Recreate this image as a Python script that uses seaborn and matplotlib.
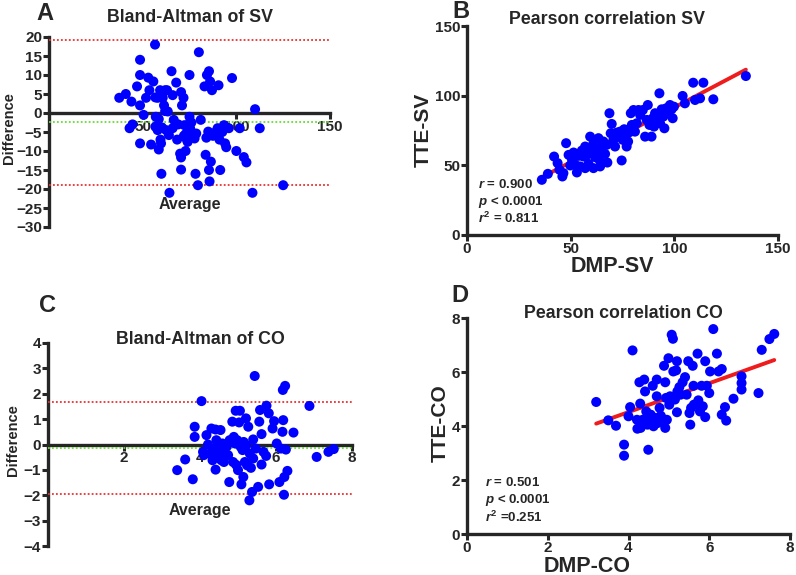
import numpy as np
import matplotlib
matplotlib.use('Agg')
import matplotlib.pyplot as plt
import seaborn as sns
import pandas as pd

# Bland-Altman of SV (average, difference)
sv_avg = [37.5, 41, 44, 43, 44.6, 47, 48.6, 48.6, 48.6, 48.6, 50.5, 51.8, 53, 53.6, 54.5, 55.7,
          56.6, 56.8, 56.8, 57, 58, 58.6, 58.6, 59.3, 59.5, 59.8, 60, 60.3, 60.7, 61.4, 62, 62.5,
          63, 63.4, 64, 64.3, 65.4, 66, 66.6, 67.9, 68.4, 70, 70.5, 70.5, 70.5, 71, 71.8, 72.3,
          72.9, 73.6, 74, 75, 75, 75.3, 75.9, 76.8, 77.7, 78.2, 78.6, 79.5, 80, 81, 83, 83.6, 84,
          84.3, 85, 85.4, 85.4, 85.7, 86, 86.4, 87, 87.5, 89, 90, 90.5, 91, 91.4, 92.5, 93.4, 94,
          94.6, 96, 97.7, 100, 101.8, 104, 105.4, 108.6, 110, 112.5, 125,
          73, 74.5, 76, 72, 69, 58, 62, 66]
sv_diff = [4, 5, 3, -4, -3, 7, 14, 10, 2, -8, -0.5, 4, 9.3, 6, -8.3, 8.3,
           18, 4.1, -3.6, -1, 4, -1.6, -9.6, 6, -7, -8, -16, -3.8, 4, 2, 6, -4.5,
           6, 0.4, -5.8, -21, 11, 4.7, -1.8, 8, -7, -10.7, -14.9, -11.7, 5.5, 2, 4, -3.2,
           -10, -7, -7.6, 10, -1, -4, -4.9, -6.2, -6.7, -16, -5.4, -19, 16, -1.8, 7, -11, -6.5,
           10, -4.9, 11, -15, -18, 8.3, -12.8, 6, -6, -5, -4, 7.3, -7, -15, -5, -3.2, -8,
           -9, -4, 9.2, -10, -4, -11.6, -13, -21, 1, -4, -19,
           -5.5, -3, -2.5, -6, -3, -4.5, 0.5, -4]
sv_bias, sv_upper, sv_lower = -2.3, 19.1, -18.9

# Pearson correlation SV (DMP, TTE)
sv_dmp = [36.1, 39, 42, 43.7, 44.6, 46, 46.5, 47.8, 49, 49.8, 50.6, 51.4, 52.2, 53, 53.8, 55.4,
          56.2, 57, 57.8, 58.6, 59.4, 59.7, 60.2, 61, 61.8, 62.6, 63.4, 63.9, 64.2, 65, 65.8,
          66.6, 67.4, 67.7, 68.7, 69.3, 69.8, 70.6, 71.4, 72.2, 73, 73.8, 74.6, 75.1, 75.8,
          76.4, 77, 77.7, 78.3, 79, 79.5, 80.3, 81, 81.9, 82.7, 83.5, 84.8, 85.9, 86.7, 87.2,
          88, 89, 89.6, 90.2, 90.7, 91.5, 92.8, 93.1, 93.9, 94.7, 95.2, 96, 96.6, 97.9, 98.7,
          99.2, 99.8, 104, 105.1, 109.1, 110, 112.4, 114, 118.8, 134.5, 61, 57, 54.6, 64.2]
sv_tte = [39.6, 43.9, 56.3, 51.6, 46.8, 42, 44.4, 65.9, 57.5, 49.9, 54.4, 59.2, 50.4, 44.9, 56.8,
          60.6, 56.3, 63.5, 57.5, 51.1, 70.6, 62.3, 58.7, 65.9, 55.8, 61.6, 69.5, 53.9, 63.5,
          59.9, 67.1, 58.2, 64.7, 52, 87.4, 73, 79.7, 68.3, 63.5, 73.5, 70.6, 74.2, 53.5, 68.3,
          75.9, 71.1, 63.5, 67.1, 73.7, 87.4, 79, 89.7, 74.2, 80.2, 89.7, 86.2, 89.7, 70.6,
          82.6, 93.3, 79, 70.6, 83.8, 77.8, 87.4, 86.2, 101.7, 80.2, 90.2, 85, 76.6, 90.9, 88.5,
          93.3, 90.2, 83.8, 92.1, 99.8, 94.5, 109.3, 96.9, 98.1, 109.3, 97.4, 114.1,
          48, 48, 49.2, 49.2]

# Bland-Altman of CO (average, difference)
co_avg = [3.4, 3.61, 3.81, 3.86, 3.86, 4.04, 4.08, 4.1, 4.17, 4.21, 4.26, 4.3, 4.33, 4.39, 4.41,
          4.41, 4.43, 4.48, 4.52, 4.54, 4.56, 4.59, 4.63, 4.65, 4.7, 4.74, 4.77, 4.78, 4.85,
          4.87, 4.89, 4.92, 4.94, 4.98, 5.0, 5.03, 5.05, 5.07, 5.09, 5.12, 5.14, 5.18, 5.21,
          5.22, 5.24, 5.27, 5.3, 5.31, 5.34, 5.37, 5.4, 5.44, 5.47, 5.53, 5.56, 5.58, 5.62,
          5.62, 5.67, 5.74, 5.75, 5.81, 5.82, 5.91, 5.95, 6.02, 6.09, 6.13, 6.17, 6.18, 6.19,
          6.21, 6.22, 6.24, 6.26, 6.3, 6.46, 6.88, 7.07, 7.38, 7.52, 5.4, 4.5, 5.15, 4.95]
co_diff = [-1.01, -0.59, -1.37, 0.7, 0.3, 1.71, -0.29, -0.42, 0.37, 0, -0.36, 0.63, -0.62, -0.16,
           0.59, -0.99, 0.17, -0.49, -0.22, 0.57, -0.62, 0.04, -0.69, -0.36, -0.09, -0.42, -1.48,
           0.17, 0.9, -0.69, 0.3, 0.04, 1.33, 0.17, -1.01, 0.87, 1.33, -0.09, -1.57, -0.22,
           -1.28, -0.69, 1.03, -0.03, -0.82, 0.7, -2.2, -0.36, -0.92, -1.87, 0.2, 2.7, -0.16,
           -1.67, 0.9, 1.36, 0.41, -0.79, -0.29, -0.45, 1.53, 1.23, -1.57, 0.63, 0.92, 0.04,
           -1.48, -0.16, 0.5, 2.15, 0.96, -1.98, -1.28, 2.31, -0.2, -1.04, 0.47, 1.52, -0.49,
           -0.29, -0.18, -0.55, -0.3, 0.1, -0.8]
co_bias, co_upper, co_lower = -0.13, 1.66, -1.94

# Pearson correlation CO (DMP, TTE)
co_dmp = [3.2, 3.5, 3.69, 3.89, 3.89, 4.0, 4.04, 4.1, 4.21, 4.22, 4.27, 4.29, 4.3, 4.35, 4.39,
          4.41, 4.44, 4.47, 4.49, 4.52, 4.55, 4.6, 4.62, 4.66, 4.7, 4.7, 4.72, 4.77, 4.8, 4.85,
          4.88, 4.91, 4.91, 4.93, 4.95, 4.99, 5.01, 5.03, 5.07, 5.1, 5.11, 5.15, 5.18, 5.2, 5.2,
          5.21, 5.26, 5.29, 5.34, 5.4, 5.44, 5.48, 5.51, 5.53, 5.55, 5.59, 5.61, 5.62, 5.71,
          5.73, 5.77, 5.81, 5.84, 5.9, 5.9, 5.94, 6.0, 6.02, 6.1, 6.19, 6.23, 6.31, 6.31, 6.39,
          6.42, 6.6, 6.8, 6.8, 6.8, 7.22, 7.3, 7.49, 7.61]
co_tte = [4.89, 4.21, 4.01, 3.31, 2.9, 4.36, 4.7, 6.8, 4.23, 3.9, 5.62, 4.83, 3.93, 4.23, 5.72,
          5.28, 4.54, 4.05, 3.12, 4.23, 4.42, 5.49, 3.99, 4.3, 5.72, 5.1, 4.11, 4.67, 4.38, 4.26,
          6.23, 5.62, 3.93, 5.04, 4.23, 6.51, 4.79, 5.1, 7.38, 7.23, 6.02, 4.98, 6.06, 6.4, 4.51,
          5.28, 5.44, 5.16, 5.62, 5.81, 5.16, 6.4, 4.48, 4.05, 4.67, 6.23, 5.49, 4.79, 6.68,
          4.95, 4.54, 5.49, 4.73, 6.4, 4.33, 5.49, 5.22, 6.02, 7.59, 6.68, 6.02, 6.11, 4.42,
          4.7, 4.2, 5.01, 5.84, 5.59, 5.35, 5.22, 6.82, 7.22, 7.41]

sns.set_style('ticks')
plt.rcParams['font.family'] = ['Liberation Sans', 'DejaVu Sans']
plt.rcParams['font.weight'] = 'bold'
plt.rcParams['mathtext.fontset'] = 'custom'
plt.rcParams['mathtext.it'] = 'Liberation Sans:italic:bold'
plt.rcParams['mathtext.rm'] = 'Liberation Sans:bold'
plt.rcParams['mathtext.bf'] = 'Liberation Sans:bold'

W, H = 796, 575
fig = plt.figure(figsize=(W / 100, H / 100), dpi=100)


def box(l, t, r, b):
    return [l / W, (H - b) / H, (r - l) / W, (b - t) / H]


def ftext(x, y, s, **kw):
    fig.text(x / W, 1 - y / H, s, ha=kw.pop('ha', 'center'), va=kw.pop('va', 'center'),
             fontweight='bold', **kw)


def style(ax):
    for side in ['top', 'right']:
        ax.spines[side].set_visible(False)
    for side in ['left', 'bottom']:
        ax.spines[side].set_linewidth(2.4)
        ax.spines[side].set_zorder(1)
    ax.tick_params(width=2.2, length=4, labelsize=11, pad=1)
    for lab in ax.get_xticklabels() + ax.get_yticklabels():
        lab.set_fontweight('bold')
    ax.set_xlabel('')
    ax.set_ylabel('')


def bland(ax, avg, diff, bias, upper, lower, xmax, xticks, yticks):
    ax.set_xlim(0, xmax)
    ax.set_ylim(yticks[0], yticks[-1])
    for v, c in [(upper, '#e83030'), (lower, '#e83030'), (bias, '#66dd33')]:
        ax.axhline(v, color=c, ls=(0, (1, 1.2)), lw=1.3, zorder=2)
    sns.scatterplot(x=avg, y=diff, ax=ax, color='#0000ff', s=52, edgecolor='none',
                    zorder=3, clip_on=False)
    ax.spines['bottom'].set_position(('data', 0))
    ax.set_xticks(xticks)
    ax.set_yticks(yticks)
    style(ax)


def pearson(ax, x, y, lim, ticks):
    df = pd.DataFrame({'x': x, 'y': y})
    sns.scatterplot(data=df, x='x', y='y', ax=ax, color='#0000ff', s=52, edgecolor='none',
                    zorder=3, clip_on=False)
    sns.regplot(data=df, x='x', y='y', ax=ax, ci=None, scatter=False,
                line_kws={'color': '#ee1c1c', 'lw': 2.8, 'zorder': 2})
    ax.set_xlim(0, lim)
    ax.set_ylim(0, lim)
    ax.set_xticks(ticks)
    ax.set_yticks(ticks)
    style(ax)


axA = fig.add_axes(box(49, 37, 330, 227))
bland(axA, sv_avg, sv_diff, sv_bias, sv_upper, sv_lower, 150, [50, 100, 150],
      list(range(-30, 25, 5)))

axB = fig.add_axes(box(467, 26, 778, 235))
pearson(axB, sv_dmp, sv_tte, 150, [0, 50, 100, 150])

axC = fig.add_axes(box(48, 343, 352, 546))
bland(axC, co_avg, co_diff, co_bias, co_upper, co_lower, 8, [2, 4, 6, 8],
      list(range(-4, 5, 1)))

axD = fig.add_axes(box(467, 318, 790, 534))
pearson(axD, co_dmp, co_tte, 8, [0, 2, 4, 6, 8])

# panel letters
for x, y, s in [(45, 13, 'A'), (461, 12, 'B'), (47, 305, 'C'), (460, 295, 'D')]:
    ftext(x, y, s, fontsize=17)

# titles
ftext(190, 17, 'Bland-Altman of SV', fontsize=12.8)
ftext(607, 19, 'Pearson correlation SV', fontsize=12.8)
ftext(200, 340, 'Bland-Altman of CO', fontsize=12.8)
ftext(623, 313, 'Pearson correlation CO', fontsize=12.8)

# axis labels
ftext(9, 128, 'Difference', fontsize=10.5, rotation=90)
ftext(13, 440, 'Difference', fontsize=10.5, rotation=90)
ftext(190, 204, 'Average', fontsize=11.5)
ftext(200, 510, 'Average', fontsize=11.5)
ftext(423, 130, 'TTE-SV', fontsize=15, rotation=90)
ftext(440, 423, 'TTE-CO', fontsize=15, rotation=90)
ftext(612, 267, 'DMP-SV', fontsize=15.5)
ftext(587, 566, 'DMP-CO', fontsize=15.5)

# statistics
for y, s in [(185, r'$r$ = 0.900'), (202, r'$p$ < 0.0001'), (218, r'$r^2$ = 0.811')]:
    ftext(478, y, s, fontsize=9.5, ha='left')
for y, s in [(483, r'$r$ = 0.501'), (500, r'$p$ < 0.0001'), (517, r'$r^2$ =0.251')]:
    ftext(485, y, s, fontsize=9.5, ha='left')

fig.savefig('out.png', dpi=100)
